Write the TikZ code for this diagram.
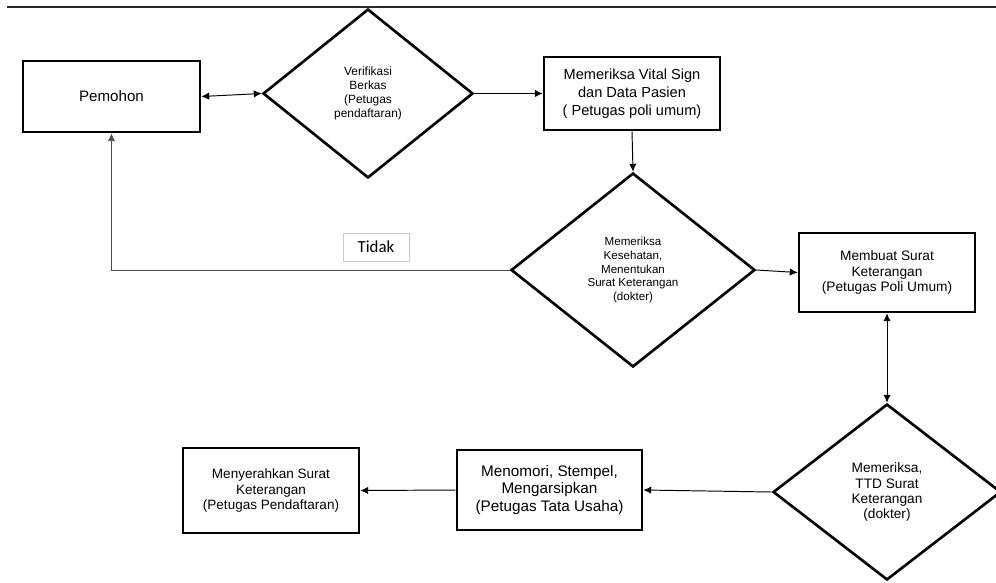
\documentclass[tikz,border=0pt]{standalone}
\usepackage{fontspec}
\setmainfont{Liberation Sans}
\newfontfamily\tidakfont{Carlito}
\usetikzlibrary{shapes.geometric,arrows.meta}

\begin{document}
\begin{tikzpicture}[x=0.02cm,y=-0.02cm,
    box/.style={draw, line width=1.5pt, align=center, inner sep=1pt},
    dia/.style={draw, diamond, line width=1.5pt, align=center, inner sep=0pt},
    arr/.style={-{Latex[length=4.5pt,width=4.2pt]}, line width=0.55pt},
    dblarr/.style={{Latex[length=4.5pt,width=4.2pt]}-{Latex[length=4.5pt,width=4.2pt]}, line width=0.55pt}]

        \useasboundingbox (0,0) rectangle (996,582);

        %Top rule
        \draw [line width=0.6pt, black!85] (7,7) -- (996,7);

        %First row
        \node [box, minimum width=3.54cm, minimum height=1.42cm, font=\fontsize{8.6}{10}\selectfont] (pemohon) at (111.5,96.5) {Pemohon};
        \node [dia, minimum width=4.2cm, minimum height=3.38cm, font=\fontsize{6.8}{7.9}\selectfont] (verifikasi) at (368,93.5) {Verifikasi\\Berkas\\(Petugas\\pendaftaran)};
        \node [box, minimum width=3.52cm, minimum height=1.46cm, font=\fontsize{8.3}{10.1}\selectfont] (vital) at (632,93.5) {Memeriksa Vital Sign\\dan Data Pasien\\( Petugas poli umum)};

        %Second row
        \node [dia, minimum width=4.88cm, minimum height=3.88cm, font=\fontsize{6.6}{7.9}\selectfont] (kesehatan) at (633,270) {Memeriksa\\Kesehatan,\\Menentukan\\Surat Keterangan\\(dokter)};
        \node [box, minimum width=3.52cm, minimum height=1.58cm, font=\fontsize{7.8}{8.6}\selectfont] (membuat) at (887,272.5) {Membuat Surat\\Keterangan\\(Petugas Poli Umum)};
        \node [draw=black!20, line width=0.4pt, minimum width=1.32cm, minimum height=0.56cm, font=\tidakfont\fontsize{9.6}{11}\selectfont] (tidak) at (376,247) {Tidak};

        %Third row
        \node [dia, minimum width=4.56cm, minimum height=3.52cm, font=\fontsize{7.8}{8.6}\selectfont] (ttd) at (887,492) {Memeriksa,\\TTD Surat\\Keterangan\\(dokter)};
        \node [box, minimum width=3.7cm, minimum height=1.6cm, font=\fontsize{8.7}{10.1}\selectfont] (nomor) at (549.5,490) {Menomori, Stempel,\\Mengarsipkan\\(Petugas Tata Usaha)};
        \node [box, minimum width=3.52cm, minimum height=1.7cm, font=\fontsize{7.7}{9.1}\selectfont] (serah) at (271,490.5) {Menyerahkan Surat\\Keterangan\\(Petugas Pendaftaran)};

        %Connectors
        \draw [dblarr] (pemohon.east) -- (verifikasi.west);
        \draw [arr] (verifikasi.east) -- (vital.west);
        \draw [arr] (vital.south) -- (kesehatan.north);
        \draw [arr] (kesehatan.east) -- (membuat.west);
        \draw [dblarr] (membuat.south) -- (ttd.north);
        \draw [arr] (ttd.west) -- (nomor.east);
        \draw [arr] (nomor.west) -- (serah.east);
        \draw [arr, black!70] (kesehatan.west) -| (pemohon.south);

\end{tikzpicture}
\end{document}
